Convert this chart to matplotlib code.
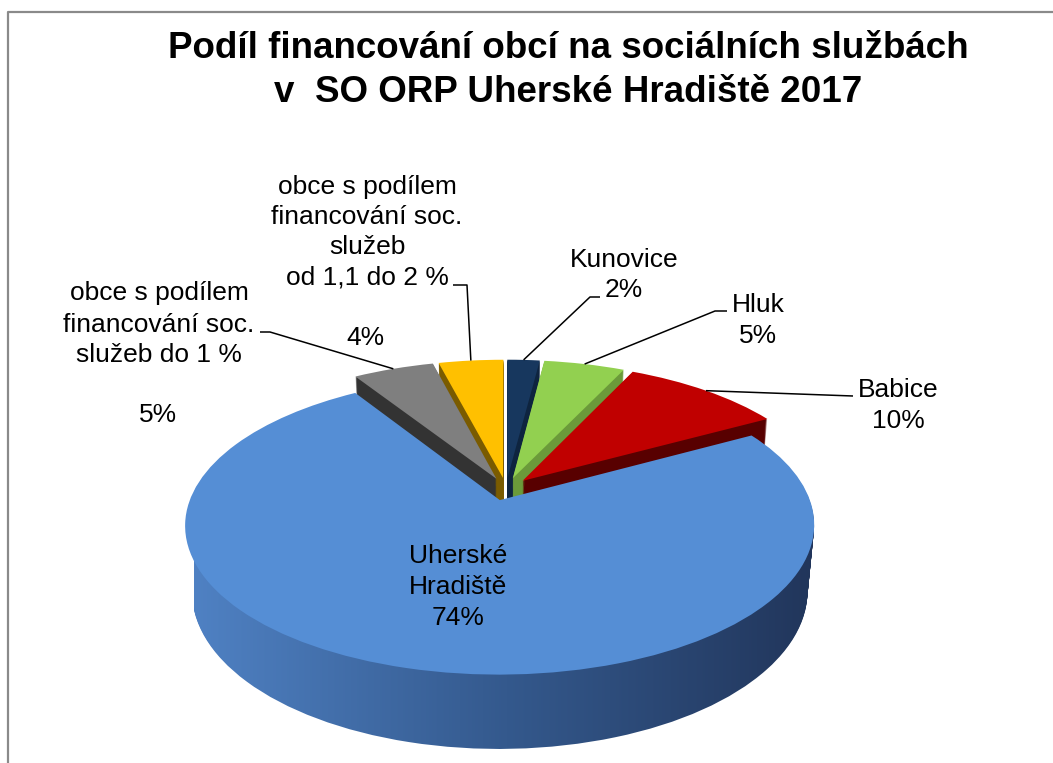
import numpy as np
import matplotlib
matplotlib.use("Agg")
import matplotlib.pyplot as plt
from matplotlib.transforms import Transform
from matplotlib.colors import LinearSegmentedColormap
from matplotlib.lines import Line2D

# ---------------- data ----------------
categories = ["Kunovice", "Hluk", "Babice", "Uherské Hradiště",
              "obce s podílem financování soc. služeb do 1 %",
              "obce s podílem financování soc. služeb od 1,1 do 2 %"]
shares = [2, 5, 10, 74, 5, 4]
pct_labels = ["2%", "5%", "10%", "74%", "5%", "4%"]
title_lines = ["Podíl financování obcí na sociálních službách",
               "v  SO ORP Uherské Hradiště 2017"]

top_colors = ["#17375e", "#92d050", "#c00000", "#558ed5", "#7f7f7f", "#ffc000"]
side_colors = ["#0e243f", "#6b9a3a", "#580000", "#2f5283", "#333333", "#7a5b00"]
blue_side_stops = ["#4f81c3", "#34598d", "#21355a"]

# ---------------- figure ----------------
W, H = 1053, 763
fig = plt.figure(figsize=(W / 100, H / 100), dpi=100)
fig.patch.set_facecolor("white")
ax = fig.add_axes([0, 0, 1, 1])

R, CX, CY = 306.0, 506.0, 489.0   # pixel scale / position of pie centre
TILT = np.deg2rad(27.5)
KPERS = 0.188
DEPTH = 0.245
EXPL = [0.08] * len(shares)
NLAYERS = 60
BLUE = 3
FONT = "Liberation Sans"


class Perspective(Transform):
    input_dims = 2
    output_dims = 2
    is_separable = False
    has_inverse = False

    def __init__(self, z):
        super().__init__()
        self.z = z
        self.s = np.sin(TILT)
        self.c = np.cos(TILT)

    def transform_non_affine(self, values):
        values = np.asarray(values, dtype=float)
        u = values[:, 0]
        v = values[:, 1]
        w = 1.0 + KPERS * (v * self.c - self.z * self.s)
        return np.column_stack([u / w, (v * self.s + self.z * self.c) / w])


def persp(z):
    return Perspective(z) + ax.transData


cmap_blue = LinearSegmentedColormap.from_list("bside", blue_side_stops)
grad = np.linspace(0, 1, 256)[None, :]

zs = np.linspace(-DEPTH, 0, NLAYERS + 1)
for i, z in enumerate(zs[:-1]):
    wedges, _ = ax.pie(shares, explode=EXPL, startangle=90, counterclock=False,
                       colors=side_colors, wedgeprops=dict(linewidth=0))
    zo = 1 + i * 0.001
    for j, w in enumerate(wedges):
        w.set_transform(persp(z))
        w.set_zorder(zo)
        if j == BLUE:
            w.set_visible(False)
            im = ax.imshow(grad, cmap=cmap_blue, extent=[-1.02, 1.02, -1.2, 0.6],
                           aspect="auto", interpolation="bilinear", zorder=zo)
            im.set_clip_path(w)

tops, _ = ax.pie(shares, explode=EXPL, startangle=90, counterclock=False,
                 colors=top_colors, wedgeprops=dict(linewidth=0))
for w in tops:
    w.set_transform(persp(0.0))
    w.set_zorder(3)

ax.set_xlim(-CX / R, (W - CX) / R)
ax.set_ylim(-(H - CY) / R, CY / R)
ax.set_aspect("auto")
ax.axis("off")


# ---------------- helpers ----------------
def px2data(px, py):
    disp = np.array([[px, H - py]], dtype=float)
    return ax.transData.inverted().transform(disp)[0]


def anchor(j):
    w = tops[j]
    tm = np.deg2rad(0.5 * (w.theta1 + w.theta2))
    u = w.center[0] + w.r * np.cos(tm)
    v = w.center[1] + w.r * np.sin(tm)
    disp = persp(0.0).transform([[u, v]])
    return ax.transData.inverted().transform(disp)[0]


def leader(j, pts):
    xs, ys = [], []
    for (px, py) in pts:
        d = px2data(px, py)
        xs.append(d[0]); ys.append(d[1])
    a = anchor(j)
    xs.append(a[0]); ys.append(a[1])
    ax.plot(xs, ys, color="black", lw=1.1, zorder=4, solid_capstyle="butt")


def lines_text(px, baselines, lines, size=19, weight="normal"):
    for yb, s in zip(baselines, lines):
        fig.text(px / W, 1 - yb / H, s, ha="center", va="baseline",
                 fontsize=size, fontweight=weight, family=FONT, color="black")


# ---------------- title ----------------
lines_text(568, [58, 102], title_lines, size=26.5, weight="bold")

# ---------------- labels ----------------
lines_text(624, [267, 297], [categories[0], pct_labels[0]])
lines_text(758, [312, 343], [categories[1], pct_labels[1]])
lines_text(898, [397, 428], [categories[2], pct_labels[2]])
lines_text(458, [563, 594, 625], ["Uherské", "Hradiště", pct_labels[3]])
lines_text(159, [300, 332, 362], ["obce s podílem", "financování soc.", "služeb do 1 %"])
lines_text(158, [422], [pct_labels[4]])
lines_text(367, [194, 224, 254, 284],
           ["obce s podílem", "financování soc.", "služeb", "od 1,1 do 2 %"])
lines_text(365, [345], [pct_labels[5]])

leader(0, [(600, 297), (590, 297)])
leader(1, [(727, 311), (715, 311)])
leader(2, [(853, 396)])
leader(4, [(260, 332), (270, 332)])
leader(5, [(453, 285), (467, 285)])

# chart-area frame (partially cropped)
fig.add_artist(Line2D([8 / W, 8 / W, 1.0], [0.0, 1 - 12 / H, 1 - 12 / H],
                      transform=fig.transFigure, color="#8a8a8a", lw=1.6))

fig.savefig("out.png", dpi=100, facecolor="white")
